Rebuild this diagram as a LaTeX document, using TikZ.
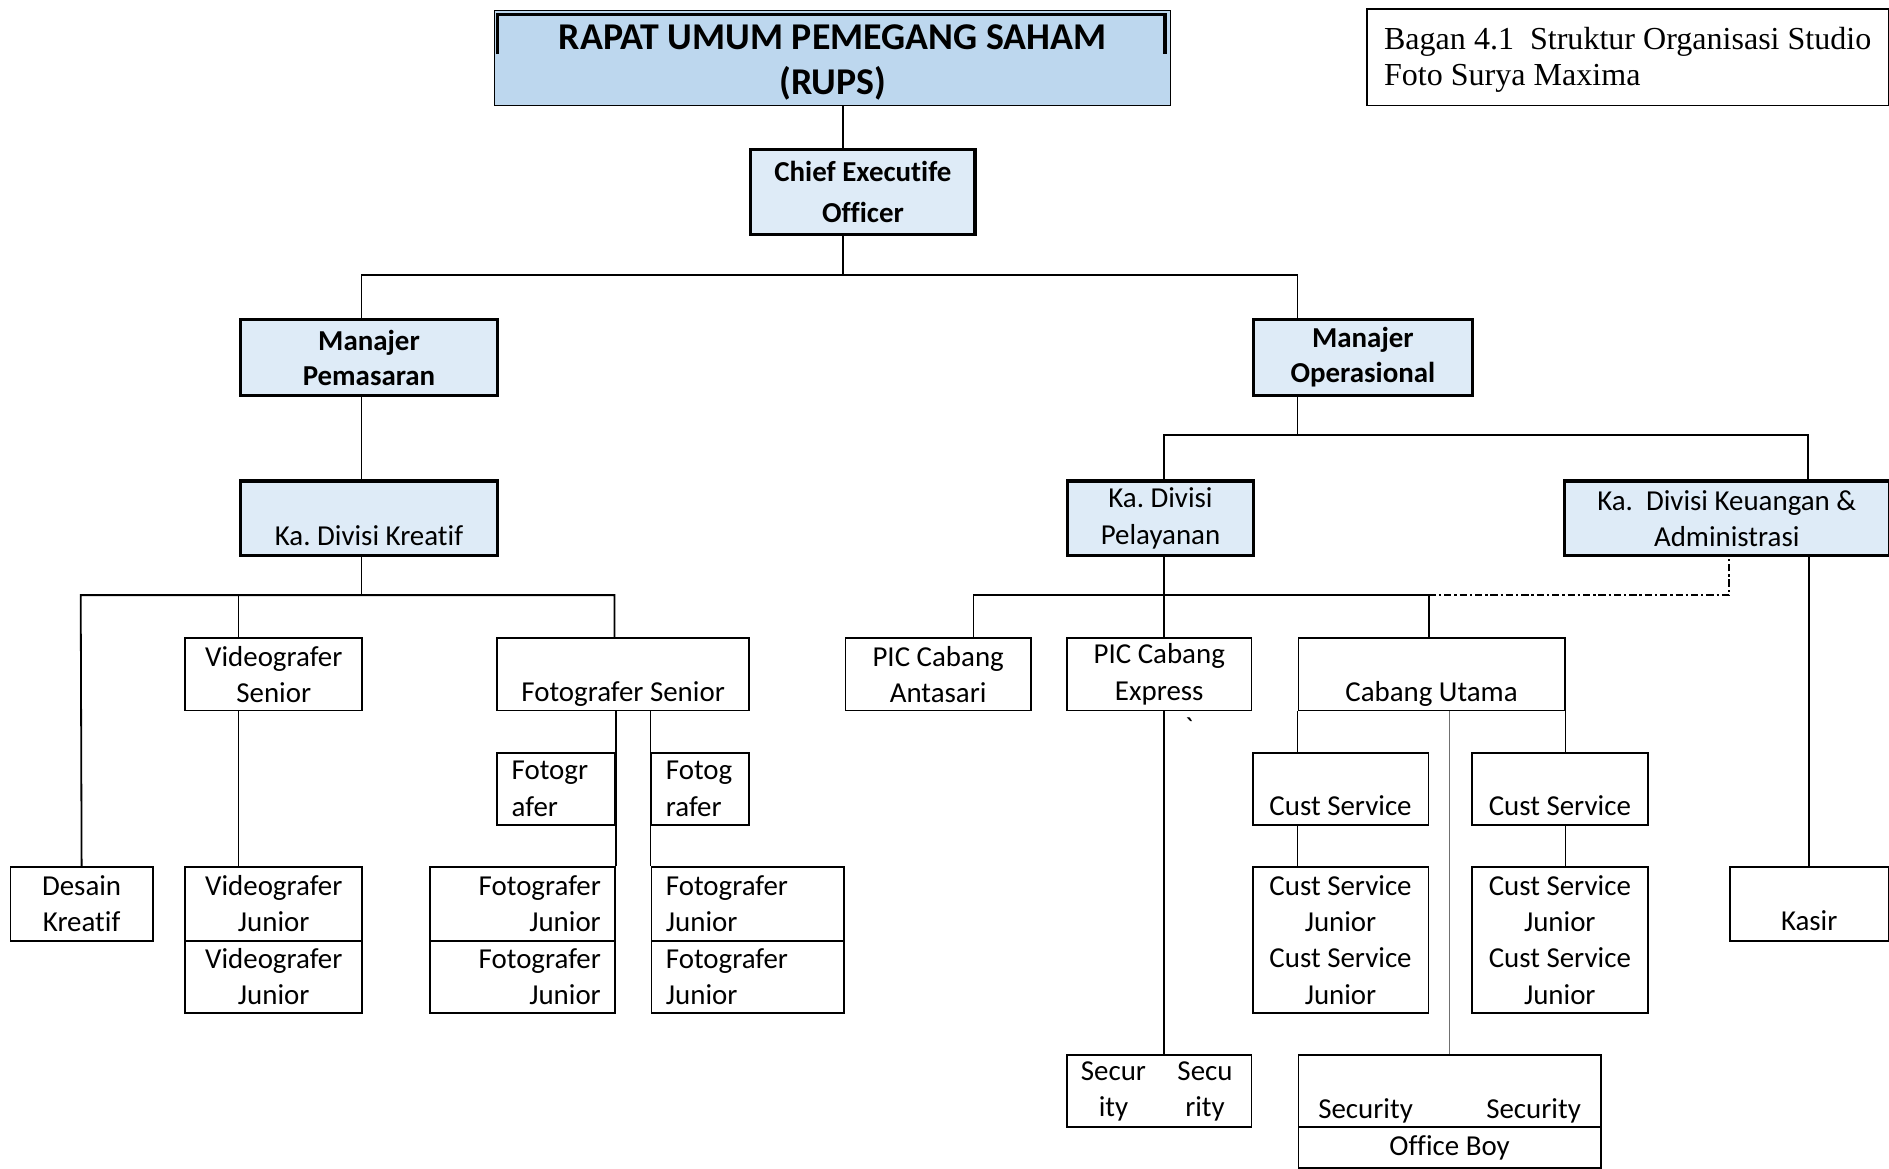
\documentclass[tikz,border=0pt]{standalone}
\usepackage{fontspec}
\setmainfont{Carlito}[Ligatures=NoCommon]
\newfontfamily\captionfont{Liberation Serif}
\usepackage{tikz}
\definecolor{ink}{HTML}{000000}
\definecolor{rupsfill}{HTML}{BDD7EE}
\definecolor{headfill}{HTML}{DEEBF7}
\definecolor{linkgrey}{HTML}{707070}
% text on the second line of a box, first line left empty
\newcommand\lowline[1]{\rule{0pt}{11pt}\\#1\rule[-3.5pt]{0pt}{3.5pt}}
\frenchspacing

\tikzset{
  boxat/.style n args={4}{at={(#1,#2)}, anchor=north west,
    minimum width={(#3-#1)*0.5pt}, minimum height={(#4-#2)*0.5pt}},
  box/.style={draw=ink, line width=0.75pt, fill=white, inner sep=0pt,
    align=center, font=\fontsize{12}{15}\selectfont},
  divbox/.style={box, fill=headfill, line width=1.3pt},
  headbox/.style={divbox, font=\fontsize{12}{14.5}\selectfont\bfseries},
  rupsbox/.style={box, fill=rupsfill, line width=0.6pt,
    font=\fontsize{15.7}{19}\selectfont\bfseries},
  capbox/.style={box, line width=0.6pt, align=left,
    font=\captionfont\fontsize{13.3}{15}\selectfont},
  link/.style={draw=ink, line width=0.75pt},
  admlink/.style={link, dash pattern=on 3pt off 1.2pt on 1pt off 1.2pt},
}

\begin{document}
\begin{tikzpicture}[x=0.5pt,y=-0.5pt]
\useasboundingbox (0,0) rectangle (1568,970);

% top levels
\node[rupsbox, boxat={410}{8}{971}{87}] (rups) {\rule{0pt}{14pt}RAPAT UMUM PEMEGANG SAHAM\\(RUPS)};
\draw[line width=1.3pt] (413,45) -- (413,12) -- (967,12) -- (967,45);
\node[capbox, boxat={1134}{7}{1567}{87}] (cap) {\rule{0pt}{11pt}Bagan 4.1~ Struktur Organisasi Studio\\Foto Surya Maxima};
\node[headbox, boxat={622}{123}{808}{193}, font=\fontsize{12}{17}\selectfont\bfseries] (ceo) {Chief Executife\\Officer};
\node[headbox, boxat={198}{264}{412}{327}] (mp) {Manajer\\Pemasaran};
\node[headbox, boxat={1039}{264}{1221}{327}] (mo) {Manajer\\Operasional};
\node[divbox, boxat={198}{398}{412}{460}] (kdk) {\lowline{Ka. Divisi Kreatif}};
\node[divbox, boxat={885}{398}{1039}{460}] (kdp) {Ka. Divisi\\Pelayanan};
\node[divbox, boxat={1297}{398}{1567}{460}] (kdka) {Ka.~ Divisi Keuangan \&\\Administrasi};

% pemasaran
\node[box, boxat={8}{719}{126}{780}] (dk) {Desain\\Kreatif};
\node[box, boxat={153}{529}{300}{589}] (vs) {Videografer\\Senior};
\node[box, boxat={153}{719}{300}{780}] (vj1) {Videografer\\Junior};
\node[box, boxat={153}{780}{300}{840}] (vj2) {Videografer\\Junior};
\node[box, boxat={412}{529}{621}{589}] (fs) {\lowline{Fotografer Senior}};
\node[box, boxat={412}{624}{510}{684}, align=left, text width=37pt] (fa) {Fotogr\\afer};
\node[box, boxat={540}{624}{621}{684}, align=left, text width=28.5pt] (fb) {Fotog\\rafer};
\node[box, boxat={356}{719}{510}{780}, align=right, text width=65pt] (fjl1) {Fotografer\\Junior};
\node[box, boxat={356}{780}{510}{840}, align=right, text width=65pt] (fjl2) {Fotografer\\Junior};
\node[box, boxat={540}{719}{700}{780}, align=left, text width=68pt] (fjr1) {Fotografer\\Junior};
\node[box, boxat={540}{780}{700}{840}, align=left, text width=68pt] (fjr2) {Fotografer\\Junior};

% operasional
\node[box, boxat={701}{529}{855}{589}] (pa) {PIC Cabang\\Antasari};
\node[box, boxat={885}{529}{1038}{589}] (pe) {PIC Cabang\\Express};
\node[box, boxat={1077}{529}{1298}{589}] (cu) {\lowline{Cabang Utama}};
\node[box, boxat={1039}{624}{1185}{684}] (cs1) {\lowline{Cust Service}};
\node[box, boxat={1221}{624}{1367}{684}] (cs2) {\lowline{Cust Service}};
\node[box, boxat={1039}{719}{1185}{840}] (csj1) {Cust Service\\Junior\\Cust Service\\Junior};
\node[box, boxat={1221}{719}{1367}{840}] (csj2) {Cust Service\\Junior\\Cust Service\\Junior};
\node[box, boxat={1435}{719}{1567}{780}] (kasir) {\lowline{Kasir}};
\node[box, boxat={885}{875}{1038}{935}] (secx) {\makebox[38pt]{Secur}\makebox[38pt]{Secu}\\\makebox[38pt]{ity}\makebox[38pt]{rity}};
\node[box, boxat={1077}{875}{1328}{935}] (secu) {\lowline{Security\hspace{30.5pt}Security}};
\node[box, boxat={1077}{935}{1328}{969}] (ob) {Office Boy};
\node[inner sep=0pt, font=\fontsize{12}{15}\selectfont] (tick) at (987,604) {\textasciigrave};

% connectors, top
\coordinate (ceo-bus) at (700,228);
\coordinate (mp-bus) at (300,228);
\coordinate (mo-bus) at (1077,228);
\draw[link] (rups.south -| ceo-bus) -- (ceo.north -| ceo-bus);
\draw[link] (ceo.south -| ceo-bus) -- (ceo-bus);
\draw[link] (mp.north -| mp-bus) -- (mp-bus) -- (mo-bus) -- (mo.north -| mo-bus);

% connectors, pemasaran
\coordinate (kdk-bus) at (300,494);
\coordinate (dk-bus) at (67,494);
\coordinate (vs-bus) at (198,494);
\coordinate (fs-bus) at (510,494);
\draw[link] (mp.south -| kdk-bus) -- (kdk.north -| kdk-bus);
\draw[link] (kdk.south -| kdk-bus) -- (kdk-bus);
\draw[link] (dk.north) -- (dk-bus) -- (fs-bus) -- (fs.north -| fs-bus);
\draw[link] (vs-bus) -- (vs.north -| vs-bus);
\draw[link] (vs.south -| vs-bus) -- (vj1.north -| vs-bus);
\draw[link] (fs.south -| fa.east) -- (fjl1.north east);
\draw[link] (fs.south -| fb.west) -- (fjr1.north west);

% connectors, operasional
\coordinate (ops-bus) at (1077,361);
\coordinate (kdp-bus) at (966,361);
\coordinate (kdka-bus) at (1501,361);
\coordinate (pel-bus) at (966,494);
\coordinate (pa-bus) at (808,494);
\coordinate (cu-bus) at (1186,494);
\coordinate (adm-bus) at (1435,494);
\draw[link] (mo.south -| ops-bus) -- (ops-bus);
\draw[link] (kdp.north -| kdp-bus) -- (kdp-bus) -- (kdka-bus) -- (kdka.north -| kdka-bus);
\draw[link] (kdp.south -| pel-bus) -- (pel-bus);
\draw[link] (pa.north -| pa-bus) -- (pa-bus) -- (cu-bus) -- (cu.north -| cu-bus);
\draw[link] (pel-bus) -- (pe.north -| pel-bus);
\draw[admlink] (cu-bus) -- (adm-bus) -- (kdka.south -| adm-bus);
\draw[link] (kdka.south -| kasir.north) -- (kasir.north);
\draw[link] (pe.south -| pel-bus) -- (secx.north -| pel-bus);
\draw[link] (cu.south west) -- (cs1.north -| cu.south west);
\draw[link] (cu.south east) -- (cs2.north -| cu.south east);
\draw[link] (cs1.south -| cu.south west) -- (csj1.north -| cu.south west);
\draw[link] (cs2.south -| cu.south east) -- (csj2.north -| cu.south east);
\draw[link, draw=linkgrey, line width=0.6pt] (cu.south -| secu.north) -- (secu.north);
\end{tikzpicture}
\end{document}
